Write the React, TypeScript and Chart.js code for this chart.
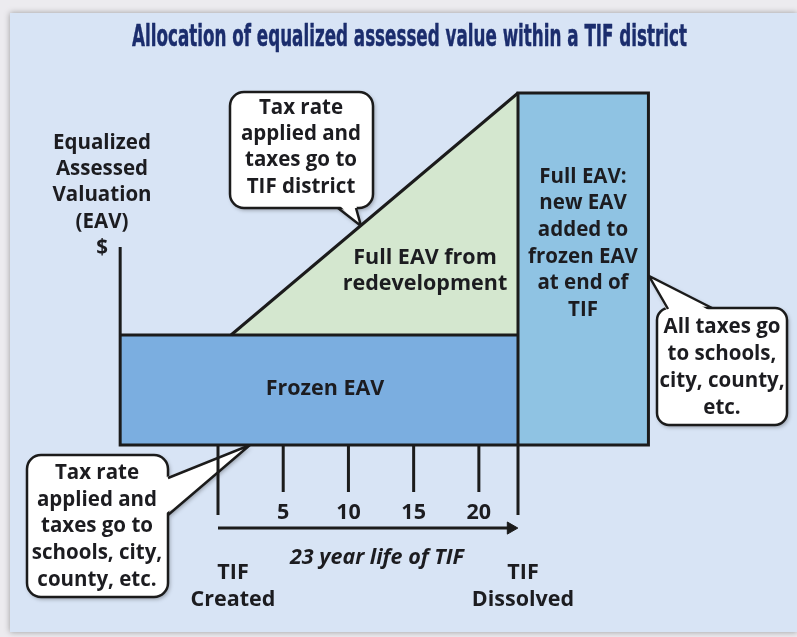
import React, { useEffect, useRef } from 'react';
import { Chart, registerables } from 'chart.js';

Chart.register(...registerables);

// ---------------- data ----------------
const TITLE = 'Allocation of equalized assessed value within a TIF district';
const YEAR_TICKS = [5, 10, 15, 20];
const TIF_CREATED_YEAR = 0;
const TIF_DISSOLVED_YEAR = 23;
const AXIS_YEAR = -7.5;
const REDEVELOPMENT_START_YEAR = 1;
const POST_TIF_END_YEAR = 33;
const FROZEN_EAV = 100;
const FULL_EAV = 320;
const AXIS_TOP_EAV = 180;
const MAJOR_TICK_DEPTH = -63.6;
const MINOR_TICK_DEPTH = -42.7;
const LIFE_ARROW_LEVEL = -75.5;
const ARROW_HEAD_YEAR = 22.45;

const Y_LABEL = ['Equalized', 'Assessed', 'Valuation', '(EAV)', '$'];
const TOP_CALLOUT = ['Tax rate', 'applied and', 'taxes go to', 'TIF district'];
const LEFT_CALLOUT = ['Tax rate', 'applied and', 'taxes go to', 'schools, city,', 'county, etc.'];
const RIGHT_CALLOUT = ['All taxes go', 'to schools,', 'city, county,', 'etc.'];
const FULL_LABEL = ['Full EAV:', 'new EAV', 'added to', 'frozen EAV', 'at end of', 'TIF'];
const REDEV_LABEL = ['Full EAV from', 'redevelopment'];
const FROZEN_LABEL = 'Frozen EAV';
const CREATED_LABEL = ['TIF', 'Created'];
const DISSOLVED_LABEL = ['TIF', 'Dissolved'];
const LIFE_LABEL = '23 year life of TIF';

// ---------------- styles ----------------
const W = 797;
const H = 637;
const INK = '#1b1b1b';
const TEXT = '#1c1c20';
const FONT = '700 20.5px "Open Sans"';
const BIG_FONT = '700 21.5px "Open Sans"';
const LW = 3;

function txt(
  ctx: CanvasRenderingContext2D,
  s: string,
  x: number,
  y: number,
  font = FONT,
  color = TEXT,
  fitW?: number,
  strokeW = 0
) {
  ctx.save();
  ctx.font = font;
  ctx.fillStyle = color;
  ctx.strokeStyle = color;
  ctx.lineWidth = strokeW;
  ctx.lineJoin = 'round';
  ctx.textAlign = 'center';
  ctx.textBaseline = 'middle';
  ctx.translate(x, y);
  if (fitW) {
    const w = ctx.measureText(s).width;
    ctx.scale(fitW / w, 1);
  }
  ctx.fillText(s, 0, 0);
  if (strokeW > 0) ctx.strokeText(s, 0, 0);
  ctx.restore();
}

function lines(ctx: CanvasRenderingContext2D, arr: string[], cx: number, y0: number, step: number, font = FONT) {
  arr.forEach((s, i) => txt(ctx, s, cx, y0 + i * step, font));
}

function rrPath(ctx: CanvasRenderingContext2D, x: number, y: number, w: number, h: number, r: number) {
  ctx.beginPath();
  ctx.moveTo(x + r, y);
  ctx.arcTo(x + w, y, x + w, y + h, r);
  ctx.arcTo(x + w, y + h, x, y + h, r);
  ctx.arcTo(x, y + h, x, y, r);
  ctx.arcTo(x, y, x + w, y, r);
  ctx.closePath();
}

type P = [number, number];
function callout(
  ctx: CanvasRenderingContext2D,
  box: { x: number; y: number; w: number; h: number; r: number },
  a: P,
  b: P,
  tip: P,
  inward: P
) {
  ctx.save();
  ctx.shadowColor = 'rgba(0,0,0,0.35)';
  ctx.shadowBlur = 4;
  ctx.shadowOffsetX = 1.5;
  ctx.shadowOffsetY = 2;
  ctx.fillStyle = '#ffffff';
  ctx.beginPath();
  ctx.moveTo(a[0], a[1]);
  ctx.lineTo(tip[0], tip[1]);
  ctx.lineTo(b[0], b[1]);
  ctx.closePath();
  ctx.fill();
  rrPath(ctx, box.x, box.y, box.w, box.h, box.r);
  ctx.fill();
  ctx.shadowColor = 'transparent';
  ctx.strokeStyle = INK;
  ctx.lineWidth = 2.5;
  ctx.stroke();
  ctx.beginPath();
  ctx.moveTo(a[0] + inward[0], a[1] + inward[1]);
  ctx.lineTo(tip[0], tip[1]);
  ctx.lineTo(b[0] + inward[0], b[1] + inward[1]);
  ctx.closePath();
  ctx.fill();
  ctx.beginPath();
  ctx.moveTo(a[0], a[1]);
  ctx.lineTo(tip[0], tip[1]);
  ctx.lineTo(b[0], b[1]);
  ctx.lineJoin = 'miter';
  ctx.stroke();
  ctx.restore();
}

const bgPlugin = {
  id: 'bgPlugin',
  beforeDraw(chart: any) {
    const ctx: CanvasRenderingContext2D = chart.ctx;
    ctx.save();
    ctx.fillStyle = '#ecebef';
    ctx.fillRect(0, 0, W, H);
    ctx.shadowColor = 'rgba(0,0,0,0.35)';
    ctx.shadowBlur = 6;
    ctx.fillStyle = '#d8e4f5';
    ctx.fillRect(10, 13, W - 10, H - 18);
    ctx.restore();
  },
};

const calloutPlugin = {
  id: 'calloutPlugin',
  beforeDatasetsDraw(chart: any) {
    const ctx: CanvasRenderingContext2D = chart.ctx;
    callout(ctx, { x: 230, y: 92, w: 143, h: 116, r: 14 }, [338, 208], [356, 208], [361, 226], [0, -4]);
    lines(ctx, TOP_CALLOUT, 301, 108, 26.3);
    callout(ctx, { x: 27, y: 455, w: 141, h: 142, r: 14 }, [168, 478], [168, 515], [250, 445], [-4, 0]);
    lines(ctx, LEFT_CALLOUT, 97, 473, 26.7);
    callout(ctx, { x: 657, y: 308, w: 130, h: 117, r: 12 }, [668, 309], [712, 308], [649, 276], [0, 4]);
    lines(ctx, RIGHT_CALLOUT, 722, 327, 27);
  },
};

const labelPlugin = {
  id: 'labelPlugin',
  afterDatasetsDraw(chart: any) {
    const ctx: CanvasRenderingContext2D = chart.ctx;
    const xs = chart.scales.x;
    txt(ctx, TITLE, 409.5, 38, 'bold 30px "DejaVu Sans"', '#1b2d6d', 555, 0.5);
    lines(ctx, Y_LABEL, 102, 143, 26.3);
    lines(ctx, REDEV_LABEL, 425, 258, 26, BIG_FONT);
    txt(ctx, FROZEN_LABEL, 325, 389, BIG_FONT);
    lines(ctx, FULL_LABEL, 583, 177, 26.6);
    YEAR_TICKS.forEach((t) => txt(ctx, String(t), xs.getPixelForValue(t), 513, BIG_FONT));
    lines(ctx, CREATED_LABEL, xs.getPixelForValue(TIF_CREATED_YEAR) + 15, 573, 27, BIG_FONT);
    lines(ctx, DISSOLVED_LABEL, xs.getPixelForValue(TIF_DISSOLVED_YEAR) + 5, 573, 27, BIG_FONT);
    txt(ctx, LIFE_LABEL, 377, 558, 'italic 700 21.5px "Open Sans"');
  },
};

function line(data: { x: number; y: number }[], extra: any = {}) {
  return {
    data,
    showLine: true,
    borderColor: INK,
    borderWidth: LW,
    pointRadius: 0,
    fill: false,
    clip: false,
    borderJoinStyle: 'miter',
    borderCapStyle: 'butt',
    order: 0,
    ...extra,
  };
}

function area(data: { x: number; y: number }[], color: string, fill: any) {
  return {
    data,
    showLine: true,
    borderWidth: 0,
    borderColor: 'transparent',
    backgroundColor: color,
    pointRadius: 0,
    fill,
    clip: false,
    order: 10,
  };
}

export default function App() {
  const ref = useRef<HTMLCanvasElement>(null);
  useEffect(() => {
    const datasets: any[] = [
      area(
        [{ x: AXIS_YEAR, y: FROZEN_EAV }, { x: TIF_DISSOLVED_YEAR, y: FROZEN_EAV }],
        '#7baee0',
        'origin'
      ),
      area(
        [{ x: REDEVELOPMENT_START_YEAR, y: FROZEN_EAV }, { x: TIF_DISSOLVED_YEAR, y: FULL_EAV }],
        '#d4e7cf',
        { value: FROZEN_EAV }
      ),
      area(
        [{ x: TIF_DISSOLVED_YEAR, y: FULL_EAV }, { x: POST_TIF_END_YEAR, y: FULL_EAV }],
        '#8fc3e3',
        'origin'
      ),
      line([
        { x: AXIS_YEAR, y: AXIS_TOP_EAV },
        { x: AXIS_YEAR, y: 0 },
        { x: POST_TIF_END_YEAR, y: 0 },
        { x: POST_TIF_END_YEAR, y: FULL_EAV },
        { x: TIF_DISSOLVED_YEAR, y: FULL_EAV },
        { x: TIF_DISSOLVED_YEAR, y: MAJOR_TICK_DEPTH },
      ]),
      line([{ x: AXIS_YEAR, y: FROZEN_EAV }, { x: TIF_DISSOLVED_YEAR, y: FROZEN_EAV }]),
      line([{ x: REDEVELOPMENT_START_YEAR, y: FROZEN_EAV }, { x: TIF_DISSOLVED_YEAR, y: FULL_EAV }]),
      line([{ x: TIF_CREATED_YEAR, y: 0 }, { x: TIF_CREATED_YEAR, y: MAJOR_TICK_DEPTH }]),
      ...YEAR_TICKS.map((t) => line([{ x: t, y: 0 }, { x: t, y: MINOR_TICK_DEPTH }])),
      line([{ x: TIF_CREATED_YEAR, y: LIFE_ARROW_LEVEL }, { x: ARROW_HEAD_YEAR, y: LIFE_ARROW_LEVEL }], {
        pointRadius: [0, 7],
        pointStyle: 'triangle',
        rotation: 90,
        pointBackgroundColor: INK,
        pointBorderColor: INK,
        pointBorderWidth: 1,
      }),
    ];
    const pxPerYear = 300 / 23;
    const xMin = -8;
    const xMax = 34;
    const chart = new Chart(ref.current as HTMLCanvasElement, {
      type: 'scatter',
      data: { datasets },
      options: {
        animation: false,
        responsive: false,
        maintainAspectRatio: false,
        events: [],
        layout: {
          padding: {
            left: 218 + xMin * pxPerYear,
            right: W - (218 + xMax * pxPerYear),
            top: 93,
            bottom: H - 555,
          },
        },
        plugins: { legend: { display: false }, tooltip: { enabled: false } },
        scales: {
          x: { type: 'linear', min: xMin, max: xMax, display: false },
          y: { type: 'linear', min: -100, max: FULL_EAV, display: false },
        },
      },
      plugins: [bgPlugin, calloutPlugin, labelPlugin],
    } as any);
    return () => chart.destroy();
  }, []);
  return (
    <div style={{ position: 'fixed', left: 0, top: 0, width: W, height: H }}>
      <canvas ref={ref} width={W} height={H} style={{ display: 'block' }} />
    </div>
  );
}
